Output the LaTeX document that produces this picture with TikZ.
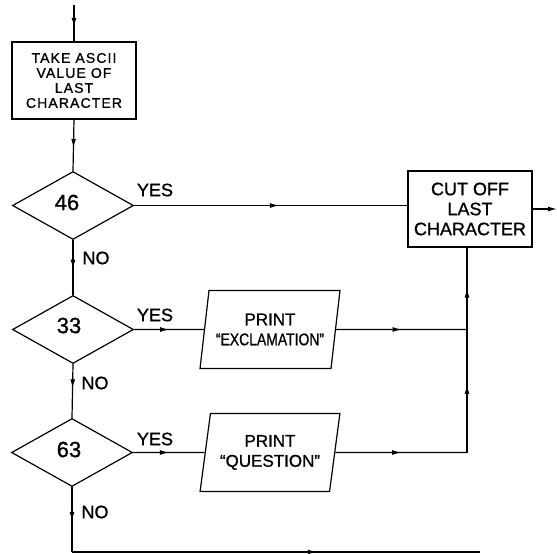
\documentclass[tikz,border=0pt]{standalone}
\usepackage{fontspec}
\setmainfont{Liberation Sans}[FakeBold=1.0]
\usetikzlibrary{shapes.geometric,arrows.meta,decorations.markings}
\tikzset{
  conn/.style={line width=1.2pt},
  midarrow/.style={postaction={decorate},decoration={markings,
      mark=at position #1 with {\arrow{Latex[length=9pt,width=5pt]}}}},
  procbox/.style={draw,line width=1.2pt,rectangle,inner sep=0pt,align=center},
  decbox/.style={draw,line width=1.2pt,diamond,inner sep=0pt,minimum width=121pt,minimum height=68pt,font=\fontsize{22}{24}\selectfont},
  iobox/.style={draw,line width=1.2pt,trapezium,trapezium left angle=76,trapezium right angle=104,
      trapezium stretches=true,minimum width=140pt,minimum height=78pt,inner sep=0pt,align=center,
      font=\fontsize{17}{20}\selectfont},
  lbl/.style={font=\fontsize{18}{20}\selectfont,inner sep=0pt}
}
\begin{document}
\begin{tikzpicture}[x=1pt,y=-1pt]
\useasboundingbox (0,0) rectangle (557,554);
% nodes
\node[procbox,minimum width=124pt,minimum height=77pt,
  font=\fontsize{14}{15}\selectfont\addfontfeature{LetterSpace=8}] (take) at (74,80.5)
  {TAKE ASCII\\VALUE OF\\LAST\\CHARACTER};
\node[decbox,label={[xshift=-6pt,yshift=3pt,font=\fontsize{22}{24}\selectfont]center:46}] (d46) at (73,205.5) {};
\node[decbox,label={[xshift=-4pt,yshift=4pt,font=\fontsize{22}{24}\selectfont]center:33}] (d33) at (73,329.5) {};
\node[decbox,label={[xshift=-3pt,yshift=3pt,font=\fontsize{22}{24}\selectfont]center:63}] (d63) at (72,452.5) {};
\node[procbox,minimum width=124pt,minimum height=76pt,font=\fontsize{18}{20}\selectfont] (cut) at (470,209)
  {CUT OFF\\LAST\\CHARACTER};
\node[iobox] (p1) at (270,329.5) {PRINT\\\scalebox{0.82}[1]{“EXCLAMATION”}};
\node[iobox] (p2) at (270,452.5) {PRINT\\“QUESTION”};
% labels
\node[lbl] (y1) at (155,190) {YES};
\node[lbl] (y2) at (155,315) {YES};
\node[lbl] (y3) at (155,439) {YES};
\node[lbl] (n1) at (96,258) {NO};
\node[lbl] (n2) at (95,383) {NO};
\node[lbl] (n3) at (95,512) {NO};
% coordinates
\coordinate (start) at (74,5);
\coordinate (out) at (557,209);
\coordinate (j1) at (467,329.5);
\coordinate (j2) at (467,452.5);
\coordinate (c1) at (72,552);
\coordinate (c2) at (480,552);
% connectors
\draw[conn,midarrow=0.6] (start) -- (take.north);
\draw[conn,midarrow=0.55] (take.south) -- (d46.north);
\draw[conn,midarrow=0.53] (d46.east) -- (d46.east -| cut.west);
\draw[conn,-{Latex[length=9pt,width=5pt]}] (cut.east) -- (out);
\draw[conn,midarrow=0.52] (d46.south) -- (d33.north);
\draw[conn,midarrow=0.5] (d33.east) -- (p1.west);
\draw[conn,midarrow=0.5] (p1.east) -- (j1);
\draw[conn,midarrow=0.45] (d33.south) -- (d63.north);
\draw[conn,midarrow=0.5] (d63.east) -- (p2.west);
\draw[conn,midarrow=0.5] (p2.east) -- (j2);
\draw[conn,midarrow=0.55] (j2) -- (j1);
\draw[conn,midarrow=0.5] (j1) -- (j1 |- cut.south);
\draw[conn,midarrow=0.52] (d63.south) -- (c1);
\draw[conn,midarrow=0.6] (c1) -- (c2);
\end{tikzpicture}
\end{document}
